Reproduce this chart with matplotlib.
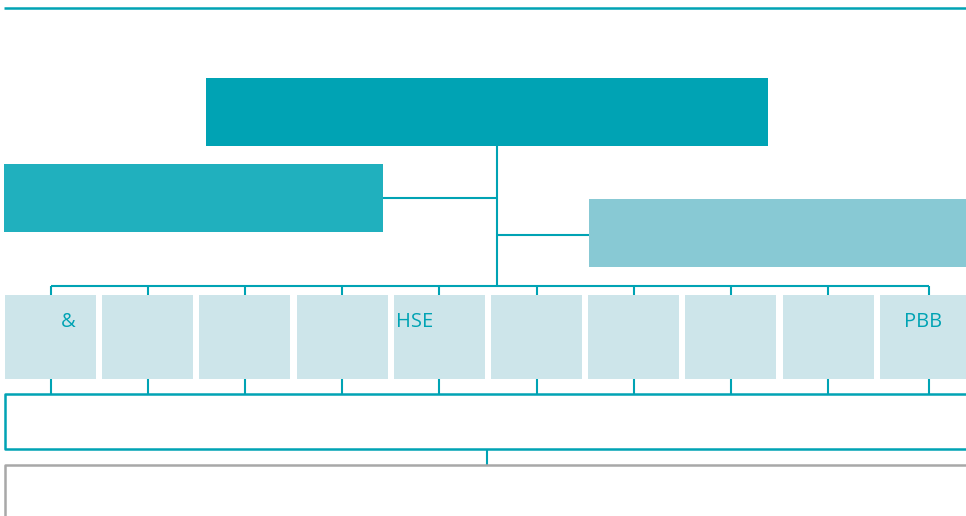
import matplotlib
matplotlib.use("Agg")
import matplotlib.pyplot as plt
from matplotlib.patches import Rectangle

# ---- data ----
unit_labels = ["&", "", "", "", "HSE", "", "", "", "", "PBB"]
label_offsets = [18, 0, 0, 0, -43, 0, 0, 0, 0, -6]   # horizontal shift of text from box centre (px)
label_align = ["center", "center", "center", "center", "left", "center", "center", "center", "center", "center"]

# ---- style ----
TEAL = "#00A3B4"
TEAL2 = "#20B0BE"
TEAL3 = "#88C9D4"
PALE = "#CDE5EA"
GREY = "#A8A8A8"
LW = 1.5

W, H = 966, 516
fig = plt.figure(figsize=(W / 100, H / 100), dpi=100)
ax = fig.add_axes([0, 0, 1, 1])
ax.set_xlim(0, W)
ax.set_ylim(H, 0)
ax.axis("off")

def box(x0, y0, x1, y1, fc, ec="none", lw=0, fill=True, z=2):
    ax.add_patch(Rectangle((x0, y0), x1 - x0, y1 - y0, facecolor=fc if fill else "none",
                           edgecolor=ec, linewidth=lw, zorder=z))

def line(xs, ys, color=TEAL, lw=LW, z=1):
    ax.plot(xs, ys, color=color, lw=lw, solid_capstyle="butt", zorder=z)

# top rule
line([4, W], [8, 8], lw=1.8)

# top box
box(206, 78, 768, 146, TEAL)
# left & right boxes
box(4, 164, 383, 232, TEAL2)
box(589, 199, 966, 267, TEAL3)

# connectors
cx = 497
line([cx, cx], [146, 286])
line([383, cx], [198, 198])
line([cx, 589], [235, 235])

# unit boxes
n = len(unit_labels)
starts = [5 + 97.2 * i for i in range(n)]
widths = [91] * (n - 1) + [98]
centers = [s + w / 2 for s, w in zip(starts, widths)]
top, bot = 295, 379
line([centers[0], centers[-1]], [286, 286])
for s, w, c, lab, off, al in zip(starts, widths, centers, unit_labels, label_offsets, label_align):
    box(s, top, s + w, bot, PALE)
    line([c, c], [286, top])
    line([c, c], [bot, 394])
    if lab:
        ax.text(c + off, 322, lab, color=TEAL, fontsize=14.5, family="Open Sans",
                fontweight="medium", ha=al, va="center", zorder=3)

# bottom teal bracket
line([W + 5, 5, 5, W + 5], [394, 394, 449, 449], lw=1.8)
line([487, 487], [449, 465])
# grey box
line([W + 5, 5, 5], [465, 465, H + 5], color=GREY, lw=1.8)

fig.savefig("out.png", dpi=100)
